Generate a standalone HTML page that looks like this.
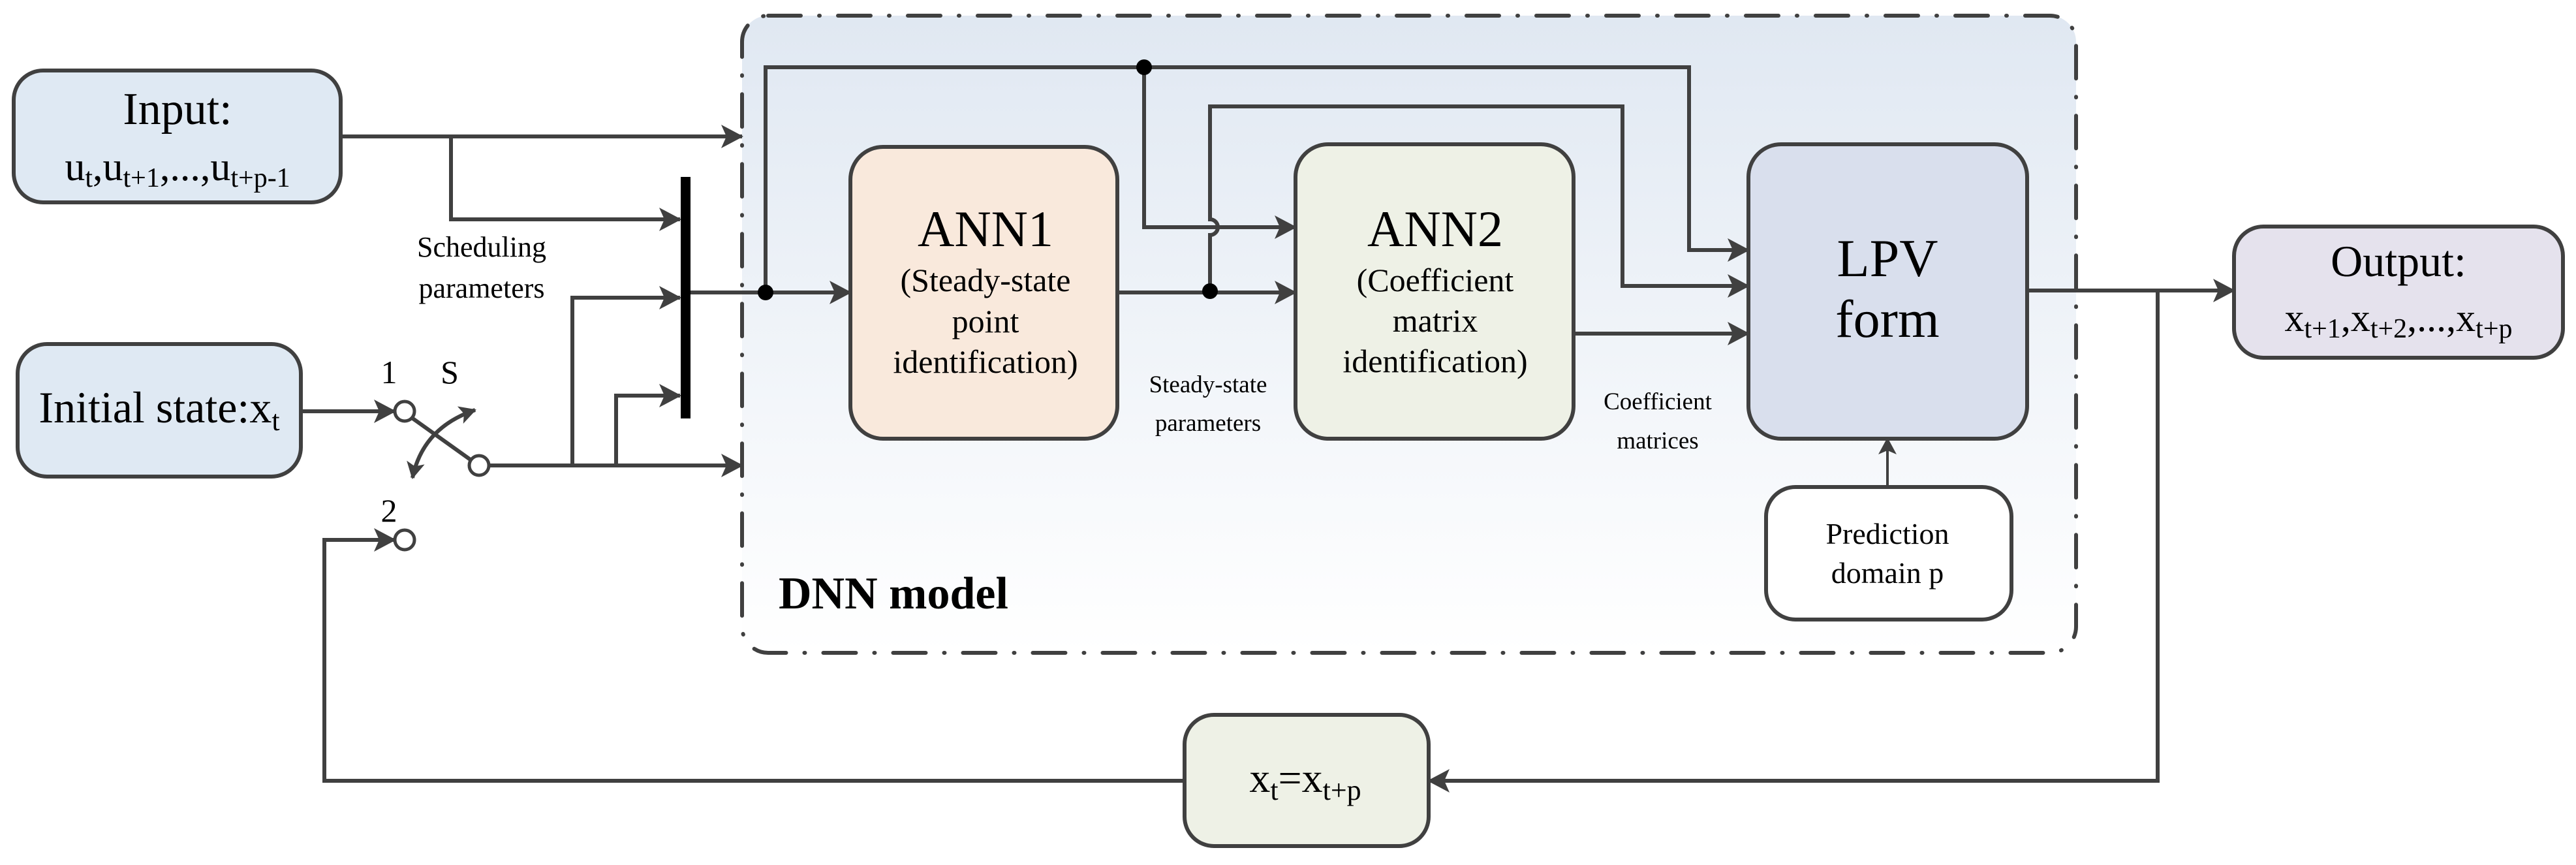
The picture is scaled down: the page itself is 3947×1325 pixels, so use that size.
<!DOCTYPE html>
<html><head><meta charset="utf-8"><style>
html,body{margin:0;padding:0;background:#fff;}
svg{display:block;font-family:"Liberation Serif","DejaVu Serif",serif;}
text{font-family:"Liberation Serif","DejaVu Serif",serif;fill:#000;}
</style></head><body>
<svg width="3947" height="1325" viewBox="0 0 3947 1325" xmlns="http://www.w3.org/2000/svg" font-family="Liberation Serif, DejaVu Serif, serif">
<defs>
<linearGradient id="g" x1="0" y1="0" x2="0" y2="1">
<stop offset="0" stop-color="#e0e8f2"/><stop offset="1" stop-color="#ffffff"/>
</linearGradient>
<marker id="a" markerWidth="34" markerHeight="36" refX="32" refY="18" orient="auto" markerUnits="userSpaceOnUse">
<path d="M0,0 L34,18 L0,36 L8,18 Z" fill="#404040"/>
</marker>
<marker id="as" markerWidth="26" markerHeight="28" refX="24" refY="14" orient="auto-start-reverse" markerUnits="userSpaceOnUse">
<path d="M0,0 L26,14 L0,28 L6,14 Z" fill="#404040"/>
</marker>
</defs>

<rect x="1137" y="24" width="2044" height="976" rx="40" fill="url(#g)"/>
<rect x="1137" y="24" width="2044" height="976" rx="40" fill="none" stroke="#404040" stroke-width="6" stroke-dasharray="50 28 1 28" stroke-linecap="round"/>

<g fill="none" stroke="#404040" stroke-width="6">
<path d="M522 209 H1137" marker-end="url(#a)"/>
<path d="M691 209 V336 H1042" marker-end="url(#a)"/>
<path d="M461 630 H605" marker-end="url(#a)"/>
<path d="M749 713 H1137" marker-end="url(#a)"/>
<path d="M877 713 V456 H1042" marker-end="url(#a)"/>
<path d="M944 713 V606 H1042" marker-end="url(#a)"/>
<path d="M631 640 L722 705"/>
<path d="M3306 445 V1196 H2189" marker-end="url(#a)"/>
<path d="M1815 1196 H497 V827 H605" marker-end="url(#a)"/>
<path d="M1058 448 H1303" marker-end="url(#a)"/>
<path d="M1173 448 V103 H2588 V383 H2679" marker-end="url(#a)"/>
<path d="M1753 103 V348 H1985" marker-end="url(#a)"/>
<path d="M1712 448 H1985" marker-end="url(#a)"/>
<path d="M1854 446 V360 A12 12 0 0 0 1854 336 V163 H2486 V438 H2679" marker-end="url(#a)"/>
<path d="M2411 511 H2679" marker-end="url(#a)"/>
<path d="M3106 445 H3423" marker-end="url(#a)"/>
<path d="M2892 746 V672" marker-end="url(#as)" stroke-width="4"/>
<path d="M632 732 Q648 655 728 628" marker-start="url(#as)" marker-end="url(#as)"/>
</g>

<rect x="1043" y="271" width="15" height="370" fill="#000"/>
<circle cx="1173" cy="448" r="12" fill="#000"/>
<circle cx="1753" cy="103" r="12" fill="#000"/>
<circle cx="1854" cy="446" r="12" fill="#000"/>
<g fill="#fff" stroke="#404040" stroke-width="5">
<circle cx="620" cy="630" r="15"/>
<circle cx="734" cy="713" r="15"/>
<circle cx="620" cy="827" r="15"/>
</g>

<g stroke="#404040" stroke-width="6">
<rect x="21" y="108" width="501" height="202" rx="45" fill="#dfe9f3"/>
<rect x="27" y="527" width="434" height="203" rx="45" fill="#dfe9f3"/>
<rect x="1303" y="225" width="409" height="447" rx="50" fill="#f9e9dc"/>
<rect x="1985" y="221" width="426" height="451" rx="50" fill="#eef1e6"/>
<rect x="2679" y="221" width="427" height="451" rx="50" fill="#d9dfed"/>
<rect x="2706" y="746" width="376" height="203" rx="45" fill="#ffffff"/>
<rect x="3423" y="347" width="504" height="201" rx="45" fill="#e5e2ed"/>
<rect x="1815" y="1095" width="374" height="201" rx="45" fill="#eef1e6"/>
</g>

<text x="272" y="190" font-size="70" text-anchor="middle">Input:</text>
<text x="272" y="276" font-size="62" text-anchor="middle">u<tspan font-size="42" dy="10">t</tspan><tspan dy="-10">,u</tspan><tspan font-size="42" dy="10">t+1</tspan><tspan dy="-10">,...,u</tspan><tspan font-size="42" dy="10">t+p-1</tspan></text>
<text x="244" y="647" font-size="68" text-anchor="middle">Initial state:x<tspan font-size="44" dy="12">t</tspan></text>

<text x="596" y="587" font-size="50" text-anchor="middle">1</text>
<text x="689" y="587" font-size="50" text-anchor="middle">S</text>
<text x="596" y="799" font-size="50" text-anchor="middle">2</text>

<text x="738" y="393" font-size="44" text-anchor="middle">Scheduling</text>
<text x="738" y="456" font-size="44" text-anchor="middle">parameters</text>

<text x="1510" y="377" font-size="78" text-anchor="middle">ANN1</text>
<text x="1510" y="446" font-size="50" text-anchor="middle">(Steady-state</text>
<text x="1510" y="509" font-size="50" text-anchor="middle">point</text>
<text x="1510" y="571" font-size="50" text-anchor="middle">identification)</text>

<text x="2199" y="377" font-size="78" text-anchor="middle">ANN2</text>
<text x="2199" y="446" font-size="50" text-anchor="middle">(Coefficient</text>
<text x="2199" y="508" font-size="50" text-anchor="middle">matrix</text>
<text x="2199" y="570" font-size="50" text-anchor="middle">identification)</text>

<text x="1851" y="601" font-size="37" text-anchor="middle">Steady-state</text>
<text x="1851" y="660" font-size="37" text-anchor="middle">parameters</text>
<text x="2540" y="627" font-size="37" text-anchor="middle">Coefficient</text>
<text x="2540" y="687" font-size="37" text-anchor="middle">matrices</text>

<text x="2892" y="423" font-size="82" text-anchor="middle">LPV</text>
<text x="2892" y="516" font-size="82" text-anchor="middle">form</text>

<text x="2892" y="833" font-size="46" text-anchor="middle">Prediction</text>
<text x="2892" y="893" font-size="46" text-anchor="middle">domain p</text>

<text x="3675" y="423" font-size="68" text-anchor="middle">Output:</text>
<text x="3675" y="507" font-size="60" text-anchor="middle">x<tspan font-size="42" dy="10">t+1</tspan><tspan dy="-10">,x</tspan><tspan font-size="42" dy="10">t+2</tspan><tspan dy="-10">,...,x</tspan><tspan font-size="42" dy="10">t+p</tspan></text>

<text x="2000" y="1213" font-size="64" text-anchor="middle">x<tspan font-size="44" dy="12">t</tspan><tspan dy="-12">=x</tspan><tspan font-size="44" dy="12">t+p</tspan></text>

<text x="1193" y="932" font-size="70" font-weight="bold">DNN model</text>
</svg>
</body></html>
